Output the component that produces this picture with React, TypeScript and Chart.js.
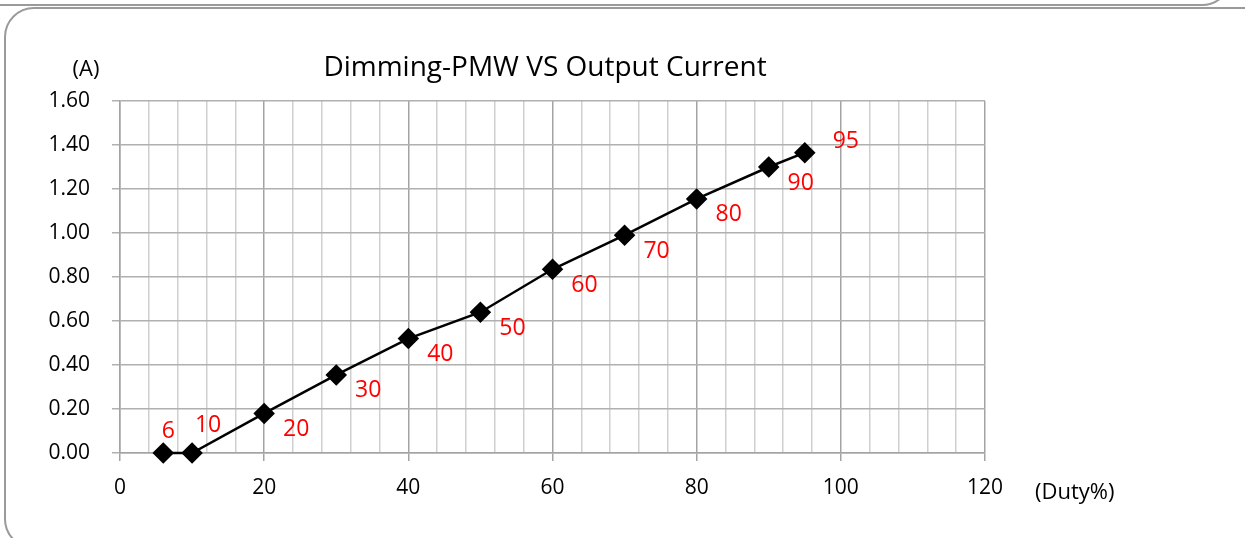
import React, { useEffect, useRef } from "react";
import { Chart, registerables } from "chart.js";

Chart.register(...registerables);

// Data
const dutyPercent = [6, 10, 20, 30, 40, 50, 60, 70, 80, 90, 95];
const outputCurrent = [0.0, 0.0, 0.18, 0.355, 0.52, 0.64, 0.835, 0.99, 1.155, 1.3, 1.365];
const pointLabels = ["6", "10", "20", "30", "40", "50", "60", "70", "80", "90", "95"];
const labelPlacement = ["above", "aboveRight", "below", "below", "below", "below", "below", "below", "below", "below", "right"];

const titleText = "Dimming-PMW VS Output Current";
const yUnitText = "(A)";
const xUnitText = "(Duty%)";

const FONT = "'Open Sans', 'DejaVu Sans', sans-serif";

const placementOffsets: Record<string, [number, number]> = {
  above: [5, -22],
  aboveRight: [16, -28],
  below: [32, 16],
  right: [41, -11],
};

const pointLabelPlugin = {
  id: "pointLabelPlugin",
  afterDatasetsDraw(chart: any) {
    const ctx = chart.ctx;
    const meta = chart.getDatasetMeta(0);
    ctx.save();
    ctx.fillStyle = "#ff0000";
    ctx.font = `23px ${FONT}`;
    ctx.textAlign = "center";
    ctx.textBaseline = "middle";
    meta.data.forEach((el: any, i: number) => {
      const off = placementOffsets[labelPlacement[i]] || [30, 16];
      ctx.fillText(pointLabels[i], el.x + off[0], el.y + off[1]);
    });
    ctx.restore();
  },
};

const textPlugin = {
  id: "textPlugin",
  afterDraw(chart: any) {
    const ctx = chart.ctx;
    const area = chart.chartArea;
    ctx.save();
    ctx.fillStyle = "#000000";
    ctx.textBaseline = "middle";
    ctx.textAlign = "center";
    ctx.font = `28px ${FONT}`;
    ctx.fillText(titleText, 545, 68);
    ctx.font = `22px ${FONT}`;
    ctx.fillText(yUnitText, 86, 70);
    ctx.textAlign = "left";
    ctx.fillText(xUnitText, area.right + 50, 493);
    ctx.restore();
  },
};

export default function App() {
  const canvasRef = useRef<HTMLCanvasElement | null>(null);

  useEffect(() => {
    const canvas = canvasRef.current;
    if (!canvas) return;
    const chart = new Chart(canvas, {
      type: "line",
      data: {
        datasets: [
          {
            data: dutyPercent.map((x, i) => ({ x, y: outputCurrent[i] })),
            borderColor: "#000000",
            backgroundColor: "#000000",
            borderWidth: 2.5,
            pointStyle: "rectRot",
            pointRadius: 9,
            pointHoverRadius: 9,
            pointBackgroundColor: "#000000",
            pointBorderColor: "#000000",
            tension: 0,
            clip: false,
          },
        ],
      },
      options: {
        animation: false,
        responsive: false,
        maintainAspectRatio: false,
        layout: { padding: { left: 0, right: 260, top: 101, bottom: 25 } },
        plugins: {
          legend: { display: false },
          title: { display: false },
          tooltip: { enabled: false },
        },
        scales: {
          x: {
            type: "linear",
            min: 0,
            max: 120,
            afterFit: (s: any) => {
              s.height = 60;
            },
            ticks: {
              stepSize: 4,
              autoSkip: false,
              maxRotation: 0,
              padding: 14,
              color: "#000000",
              font: { family: FONT, size: 21 },
              callback: (v: any) => (Number(v) % 20 === 0 ? String(v) : ""),
            },
            grid: {
              color: (c: any) => (c.tick && c.tick.value % 20 === 0 ? "#a3a3a3" : "#cfcfcf"),
              tickColor: (c: any) => (c.tick && c.tick.value % 20 === 0 ? "#a3a3a3" : "rgba(0,0,0,0)"),
              tickLength: 8,
              lineWidth: 1.5,
            },
            border: { display: true, color: "#a3a3a3", width: 1.5 },
          },
          y: {
            type: "linear",
            min: 0,
            max: 1.6,
            afterFit: (s: any) => {
              s.width = 120;
            },
            ticks: {
              stepSize: 0.2,
              padding: 22,
              color: "#000000",
              font: { family: FONT, size: 21 },
              callback: (v: any) => Number(v).toFixed(2),
            },
            grid: {
              color: "#b0b0b0",
              tickColor: "#b0b0b0",
              tickLength: 8,
              lineWidth: 1.5,
            },
            border: { display: true, color: "#a3a3a3", width: 1.5 },
          },
        },
      },
      plugins: [pointLabelPlugin, textPlugin],
    });
    return () => chart.destroy();
  }, []);

  return (
    <div
      style={{
        position: "fixed",
        left: 0,
        top: 0,
        width: 1245,
        height: 538,
        overflow: "hidden",
        background: "#ffffff",
      }}
    >
      <div
        style={{
          position: "absolute",
          left: -40,
          top: -296,
          width: 1272,
          height: 302,
          border: "2px solid #9a9a9a",
          borderRadius: 30,
          boxSizing: "border-box",
        }}
      />
      <div
        style={{
          position: "absolute",
          left: 4,
          top: 7,
          width: 1270,
          height: 542,
          border: "2px solid #9a9a9a",
          borderRadius: 30,
          boxSizing: "border-box",
        }}
      />
      <canvas
        ref={canvasRef}
        width={1245}
        height={538}
        style={{ position: "absolute", left: 0, top: 0, width: 1245, height: 538 }}
      />
    </div>
  );
}
